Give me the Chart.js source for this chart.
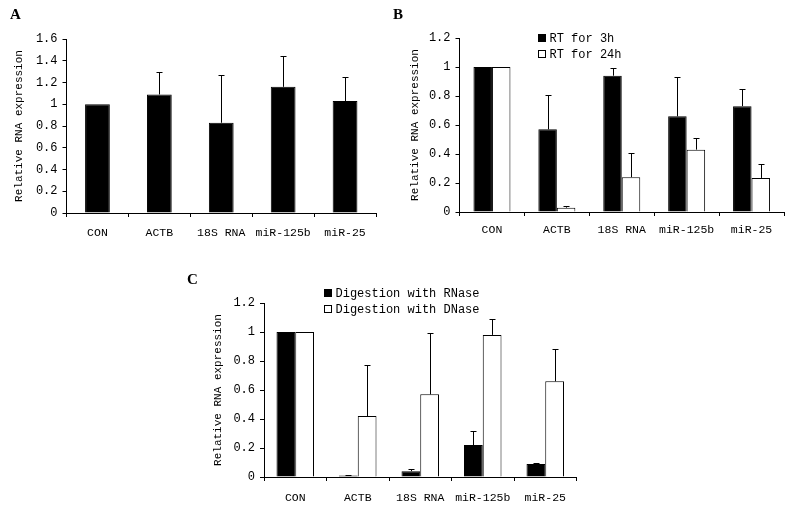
<!DOCTYPE html>
<html>
<head>
<meta charset="utf-8">
<script src="https://cdn.jsdelivr.net/npm/chart.js@4.4.0/dist/chart.umd.min.js"></script>
<style>
  body { margin: 0; background: #fff; }
  #wrap { position: relative; width: 795px; height: 510px; overflow: hidden; }
  .panel { position: absolute; }
  .tag { position: absolute; font: bold 15px "Liberation Serif", serif; line-height: 15px; color: #000; }
</style>
</head>
<body>
<div id="wrap">
  <div class="panel" style="left:0px;top:0px;width:390px;height:250px"><canvas id="chartA"></canvas></div>
  <div class="panel" style="left:390px;top:0px;width:405px;height:250px"><canvas id="chartB"></canvas></div>
  <div class="panel" style="left:180px;top:270px;width:440px;height:240px"><canvas id="chartC"></canvas></div>
  <span class="tag" style="left:10px;top:7px">A</span>
  <span class="tag" style="left:393px;top:7px">B</span>
  <span class="tag" style="left:187px;top:272px">C</span>
</div>
<script>
const categories = ['CON', 'ACTB', '18S RNA', 'miR-125b', 'miR-25'];

// panel A
const aMean = [1.0, 1.09, 0.83, 1.16, 1.03];
const aSD   = [0, 0.21, 0.44, 0.28, 0.22];
const yTicksA = ['0', '0.2', '0.4', '0.6', '0.8', '1', '1.2', '1.4', '1.6'];

// panel B
const rt3hMean  = [1.0, 0.57, 0.94, 0.66, 0.73];
const rt3hSD    = [0, 0.24, 0.05, 0.27, 0.12];
const rt24hMean = [1.0, 0.03, 0.24, 0.43, 0.235];
const rt24hSD   = [0, 0.01, 0.17, 0.08, 0.095];
const yTicksB = ['0', '0.2', '0.4', '0.6', '0.8', '1', '1.2'];

// panel C
const rnaseMean = [1.0, 0.01, 0.04, 0.22, 0.09];
const rnaseSD   = [0, 0.004, 0.012, 0.10, 0.01];
const dnaseMean = [1.0, 0.42, 0.57, 0.98, 0.66];
const dnaseSD   = [0, 0.35, 0.42, 0.11, 0.22];
const yTicksC = yTicksB;

const mono = '"Liberation Mono", monospace';

// upper error bars with a small cap
const errorBars = {
  id: 'errorBars',
  afterDatasetsDraw(chart, args, opts) {
    const ctx = chart.ctx;
    const yScale = chart.scales.y;
    ctx.save();
    ctx.strokeStyle = '#000';
    ctx.lineWidth = 1;
    chart.data.datasets.forEach((ds, i) => {
      const sds = opts.sd[i];
      chart.getDatasetMeta(i).data.forEach((bar, j) => {
        if (!sds[j]) return;
        const x = Math.round(bar.x) + 0.5;
        const top = Math.round(yScale.getPixelForValue(ds.data[j] + sds[j])) + 0.5;
        ctx.beginPath();
        ctx.moveTo(x, bar.y);
        ctx.lineTo(x, top);
        ctx.moveTo(x - 3, top);
        ctx.lineTo(x + 3, top);
        ctx.stroke();
      });
    });
    ctx.restore();
  }
};

// legend drawn inside the plot, stacked rows
const boxLegend = {
  id: 'boxLegend',
  afterDraw(chart, args, opts) {
    if (!opts.show) return;
    const ctx = chart.ctx;
    const area = chart.chartArea;
    ctx.save();
    ctx.font = '12px ' + mono;
    ctx.textBaseline = 'middle';
    chart.data.datasets.forEach((ds, i) => {
      const x = Math.round(area.left + opts.dx) + 0.5;
      const y = Math.round(area.top + opts.dy + i * opts.gap) + 0.5;
      ctx.fillStyle = ds.backgroundColor;
      ctx.strokeStyle = '#000';
      ctx.lineWidth = 1;
      ctx.fillRect(x, y - 4, 7, 7);
      ctx.strokeRect(x, y - 4, 7, 7);
      ctx.fillStyle = '#000';
      ctx.fillText(ds.label, x + 11, y);
    });
    ctx.restore();
  }
};

function makeChart(id, datasets, sds, yMax, yTicks, box, legend) {
  return new Chart(document.getElementById(id), {
    type: 'bar',
    data: { labels: categories, datasets: datasets },
    options: {
      responsive: true,
      maintainAspectRatio: false,
      animation: false,
      layout: { padding: { left: box.left, top: box.top, right: box.right, bottom: 0 } },
      plugins: {
        legend: { display: false },
        tooltip: { enabled: false },
        errorBars: { sd: sds },
        boxLegend: legend
      },
      scales: {
        x: {
          offset: true,
          grid: { offset: true, drawOnChartArea: false, color: '#000', tickLength: 4 },
          border: { color: '#000' },
          ticks: { color: '#000', font: { family: mono, size: 11.5 }, padding: box.xpad, maxRotation: 0, autoSkip: false },
          afterFit(s) { s.height = box.xh; }
        },
        y: {
          min: 0,
          max: yMax,
          ticks: {
            stepSize: 0.2, color: '#000', font: { family: mono, size: 12 }, padding: 5,
            callback: (v, i) => yTicks[i]
          },
          grid: { drawOnChartArea: false, color: '#000', tickLength: 4 },
          border: { color: '#000' },
          title: { display: true, text: 'Relative RNA expression', color: '#000', font: { family: mono, size: 11 } },
          afterFit(s) { s.width = box.yw; }
        }
      }
    },
    plugins: [errorBars, boxLegend]
  });
}

makeChart('chartA', [
  { label: 'Relative RNA expression', data: aMean, backgroundColor: '#000', borderColor: '#000', borderWidth: 1,
    categoryPercentage: 0.4, barPercentage: 1 }
], [aSD], 1.6, yTicksA, { left: 8, top: 39, right: 14, xh: 37, yw: 58.5, xpad: 9 }, { show: false });

makeChart('chartB', [
  { label: 'RT for 3h', data: rt3hMean, backgroundColor: '#000', borderColor: '#000', borderWidth: 1,
    categoryPercentage: 0.57, barPercentage: 1 },
  { label: 'RT for 24h', data: rt24hMean, backgroundColor: '#fff', borderColor: '#000', borderWidth: 1,
    categoryPercentage: 0.57, barPercentage: 1 }
], [rt3hSD, rt24hSD], 1.2, yTicksB, { left: 14, top: 38, right: 11, xh: 38, yw: 55.5, xpad: 7 }, { show: true, dx: 78, dy: 0, gap: 16 });

makeChart('chartC', [
  { label: 'Digestion with RNase', data: rnaseMean, backgroundColor: '#000', borderColor: '#000', borderWidth: 1,
    categoryPercentage: 0.6, barPercentage: 1 },
  { label: 'Digestion with DNase', data: dnaseMean, backgroundColor: '#fff', borderColor: '#000', borderWidth: 1,
    categoryPercentage: 0.6, barPercentage: 1 }
], [rnaseSD, dnaseSD], 1.2, yTicksC, { left: 27, top: 33, right: 43.5, xh: 33, yw: 57, xpad: 10 }, { show: true, dx: 60, dy: -10, gap: 16 });
</script>
</body>
</html>
